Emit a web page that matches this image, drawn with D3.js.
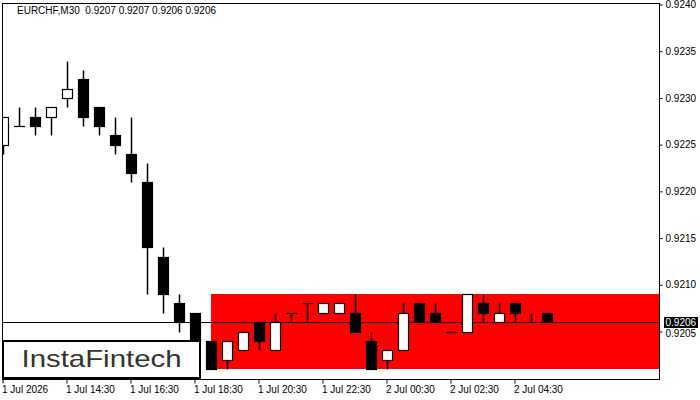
<!DOCTYPE html>
<html>
<head>
<meta charset="utf-8">
<script src="https://cdn.jsdelivr.net/npm/d3@7"></script>
<style>
  body { margin: 0; background: #fff; }
  svg text { font-family: "Liberation Sans", Arial, sans-serif; }
</style>
</head>
<body>
<div id="chart"></div>
<script>
// Candle times (M30)
const times = [
    "1 Jul 12:30", "1 Jul 13:00", "1 Jul 13:30", "1 Jul 14:00", "1 Jul 14:30", "1 Jul 15:00",
    "1 Jul 15:30", "1 Jul 16:00", "1 Jul 16:30", "1 Jul 17:00", "1 Jul 17:30", "1 Jul 18:00",
    "1 Jul 18:30", "1 Jul 19:00", "1 Jul 19:30", "1 Jul 20:00", "1 Jul 20:30", "1 Jul 21:00",
    "1 Jul 21:30", "1 Jul 22:00", "1 Jul 22:30", "1 Jul 23:00", "1 Jul 23:30", "2 Jul 00:00",
    "2 Jul 00:30", "2 Jul 01:00", "2 Jul 01:30", "2 Jul 02:00", "2 Jul 02:30", "2 Jul 03:00",
    "2 Jul 03:30", "2 Jul 04:00", "2 Jul 04:30", "2 Jul 05:00", "2 Jul 05:30"
];
const opens = [
    0.9225, 0.9227, 0.9228, 0.9228, 0.9230, 0.9232, 0.9229, 0.9226, 0.9224, 0.9221, 0.9213, 0.9208,
    0.9207, 0.9204, 0.9202, 0.9203, 0.9206, 0.9203, 0.9207, 0.9208, 0.9207, 0.9207, 0.9207, 0.9204,
    0.9202, 0.9203, 0.9208, 0.9207, 0.9205, 0.9205, 0.9208, 0.9206, 0.9208, 0.9206, 0.9207
];
const highs = [
    0.9228, 0.9229, 0.9229, 0.9229, 0.9234, 0.9233, 0.9229, 0.9228, 0.9228, 0.9223, 0.9214, 0.9209,
    0.9207, 0.9204, 0.9204, 0.9205, 0.9206, 0.9207, 0.9207, 0.9208, 0.9208, 0.9208, 0.9209, 0.9205,
    0.9203, 0.9208, 0.9208, 0.9208, 0.9205, 0.9209, 0.9209, 0.9208, 0.9208, 0.9207, 0.9207
];
const lows = [
    0.9224, 0.9227, 0.9226, 0.9226, 0.9229, 0.9227, 0.9226, 0.9224, 0.9221, 0.9209, 0.9207, 0.9205,
    0.9203, 0.9201, 0.9201, 0.9203, 0.9203, 0.9203, 0.9206, 0.9206, 0.9207, 0.9207, 0.9205, 0.9201,
    0.9201, 0.9203, 0.9206, 0.9206, 0.9205, 0.9205, 0.9206, 0.9206, 0.9206, 0.9206, 0.9206
];
const closes = [
    0.9228, 0.9227, 0.9227, 0.9229, 0.9231, 0.9228, 0.9227, 0.9225, 0.9222, 0.9214, 0.9209, 0.9206,
    0.9204, 0.9201, 0.9204, 0.9205, 0.9204, 0.9206, 0.9207, 0.9208, 0.9208, 0.9208, 0.9205, 0.9201,
    0.9203, 0.9207, 0.9206, 0.9206, 0.9205, 0.9209, 0.9207, 0.9207, 0.9207, 0.9206, 0.9206
];

// Axis labels
const tickTimes = ["1 Jul 12:30", "1 Jul 14:30", "1 Jul 16:30", "1 Jul 18:30", "1 Jul 20:30",
                   "1 Jul 22:30", "2 Jul 00:30", "2 Jul 02:30", "2 Jul 04:30"];
const tickLabels = ["1 Jul 2026", "1 Jul 14:30", "1 Jul 16:30", "1 Jul 18:30", "1 Jul 20:30",
                    "1 Jul 22:30", "2 Jul 00:30", "2 Jul 02:30", "2 Jul 04:30"];
const priceTicks = [0.9240, 0.9235, 0.9230, 0.9225, 0.9220, 0.9215, 0.9210, 0.9205];

// Pattern zone and current price
const zoneStart = "1 Jul 19:00";
const zoneTop = 0.9209;
const zoneBottom = 0.9201;
const lastPrice = 0.9206;
const title = "EURCHF,M30  0.9207 0.9207 0.9206 0.9206";

const width = 700, height = 400;
const plot = {left: 2.5, top: 3.5, right: 659.5, bottom: 379.5};

const svg = d3.select("#chart")
    .append("svg")
    .attr("width", width)
    .attr("height", height);

// Scales
const x = d3.scaleBand()
    .domain(times)
    .range([-5, -5 + 16 * times.length])
    .padding(0);
const cx = t => Math.round(x(t) + x.bandwidth() / 2);

const y = d3.scaleLinear()
    .domain([0.9205, 0.9240])
    .range([331.5, 4.5]);
const py = v => Math.round(y(v)) + 0.5;

svg.append("clipPath").attr("id", "clip")
    .append("rect")
    .attr("x", plot.left + 0.5).attr("y", plot.top + 0.5)
    .attr("width", plot.right - plot.left - 1).attr("height", plot.bottom - plot.top - 1);

const g = svg.append("g").attr("clip-path", "url(#clip)");

// Red rectangle zone
g.append("rect")
    .attr("x", cx(zoneStart))
    .attr("y", Math.round(y(zoneTop)))
    .attr("width", plot.right - cx(zoneStart))
    .attr("height", Math.round(y(zoneBottom)) - Math.round(y(zoneTop)))
    .attr("fill", "#ff0000");

// Current price line
g.append("line")
    .attr("x1", 0).attr("x2", plot.right)
    .attr("y1", py(lastPrice)).attr("y2", py(lastPrice))
    .attr("stroke", "#000").attr("stroke-width", 1);

// Candles
const candles = times.map((t, i) => ({t: t, o: opens[i], h: highs[i], l: lows[i], c: closes[i]}));

const cg = g.selectAll(".candle")
    .data(candles)
    .enter()
    .append("g")
    .attr("class", "candle");

cg.append("line")
    .attr("x1", d => cx(d.t) + 0.5).attr("x2", d => cx(d.t) + 0.5)
    .attr("y1", d => py(d.h)).attr("y2", d => py(d.l))
    .attr("stroke", "#000").attr("stroke-width", 1.5);

cg.filter(d => d.o !== d.c)
    .append("rect")
    .attr("x", d => cx(d.t) - 4.5)
    .attr("y", d => py(Math.max(d.o, d.c)))
    .attr("width", 10)
    .attr("height", d => py(Math.min(d.o, d.c)) - py(Math.max(d.o, d.c)))
    .attr("fill", d => d.c > d.o ? "#fff" : "#000")
    .attr("stroke", "#000")
    .attr("stroke-width", 1.2);

cg.filter(d => d.o === d.c)
    .append("line")
    .attr("x1", d => cx(d.t) - 5).attr("x2", d => cx(d.t) + 6)
    .attr("y1", d => py(d.c)).attr("y2", d => py(d.c))
    .attr("stroke", "#000").attr("stroke-width", 1.2);

// Frame
svg.append("rect")
    .attr("x", plot.left).attr("y", plot.top)
    .attr("width", plot.right - plot.left).attr("height", plot.bottom - plot.top)
    .attr("fill", "none").attr("stroke", "#000").attr("stroke-width", 1);

// Price axis on the right
const yAxis = svg.append("g")
    .attr("transform", "translate(" + plot.right + ",0)")
    .call(d3.axisRight(y).tickValues(priceTicks).tickFormat(d3.format(".4f")).tickSize(3).tickPadding(3));
yAxis.select(".domain").remove();
yAxis.selectAll("text").attr("font-size", 10).attr("fill", "#000")
    .attr("font-family", "Liberation Sans, Arial, sans-serif");
yAxis.selectAll("line").attr("stroke", "#000");
// nudge the lowest label a touch so it sits under the price box
yAxis.selectAll("text").filter(d => d === 0.9205).attr("dy", "0.5em");

// Time axis at the bottom
const xAxis = svg.append("g")
    .attr("transform", "translate(0," + plot.bottom + ")")
    .call(d3.axisBottom(x).tickValues(tickTimes)
        .tickFormat((d, i) => tickLabels[i]).tickSize(4).tickPadding(2));
xAxis.select(".domain").remove();
xAxis.selectAll("text").attr("font-size", 10).attr("fill", "#000")
    .attr("text-anchor", "start").attr("dx", -1)
    .attr("font-family", "Liberation Sans, Arial, sans-serif");
xAxis.selectAll("line").attr("stroke", "#000");

// Last price label
svg.append("rect")
    .attr("x", 664).attr("y", Math.round(y(lastPrice)) - 5)
    .attr("width", 34).attr("height", 11)
    .attr("fill", "#000");
svg.append("text")
    .attr("x", 665.5).attr("y", y(lastPrice) + 4)
    .attr("font-size", 10).attr("fill", "#fff")
    .text(d3.format(".4f")(lastPrice));

// Title
svg.append("text")
    .attr("x", 17).attr("y", 14)
    .attr("font-size", 10).attr("fill", "#000")
    .style("white-space", "pre")
    .text(title);

// Logo box
svg.append("rect")
    .attr("x", 3).attr("y", 341)
    .attr("width", 197).attr("height", 37)
    .attr("fill", "#fff").attr("stroke", "#000").attr("stroke-width", 2);
svg.append("text")
    .attr("x", 101.5).attr("y", 367)
    .attr("text-anchor", "middle")
    .attr("font-family", "Roboto, 'Open Sans', sans-serif")
    .attr("font-size", 24).attr("font-weight", 400)
    .attr("fill", "#333")
    .attr("textLength", 160).attr("lengthAdjust", "spacingAndGlyphs")
    .text("InstaFintech");
</script>
</body>
</html>
